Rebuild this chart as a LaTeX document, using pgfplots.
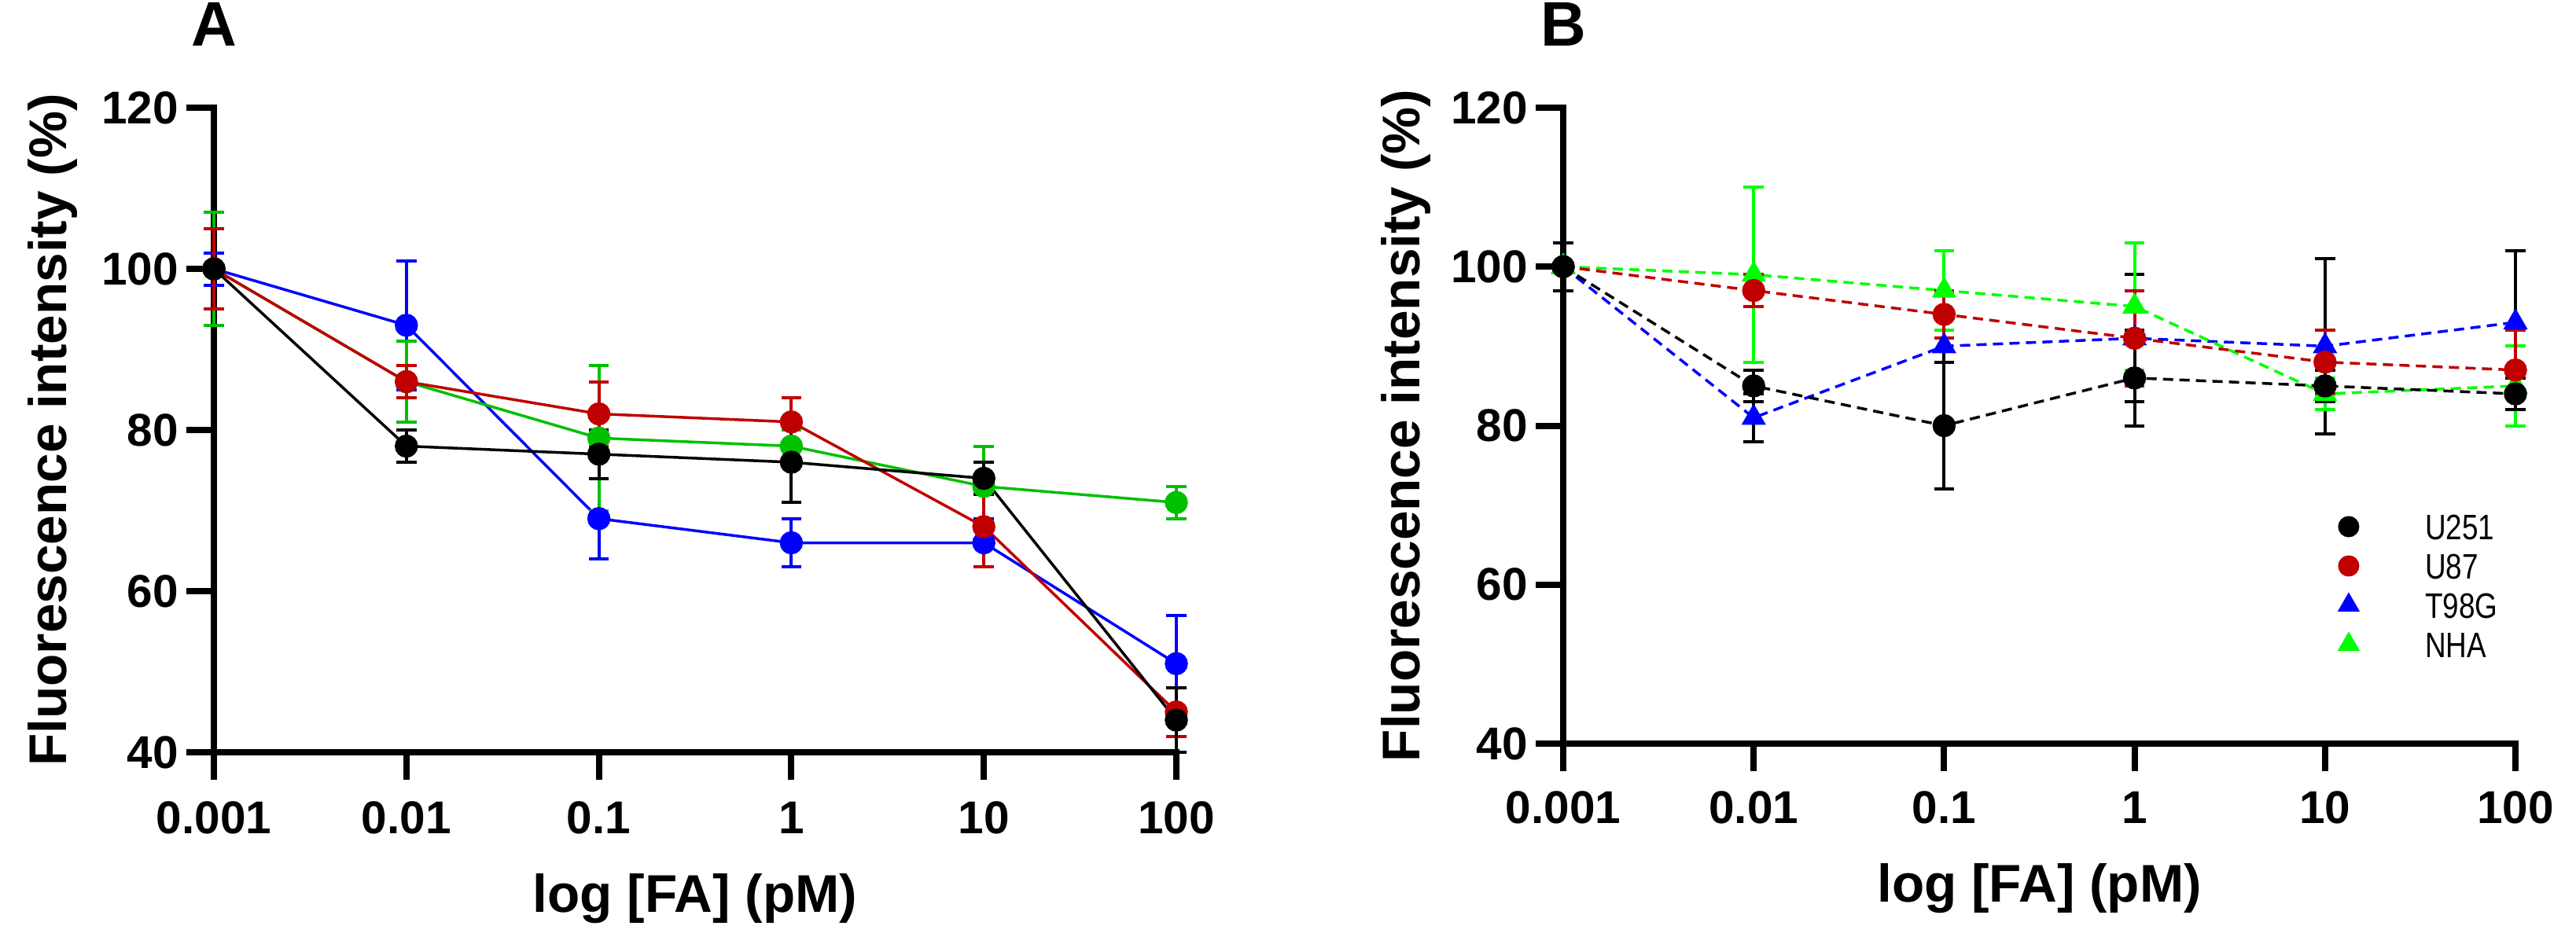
\documentclass[border=0pt]{standalone}
\usepackage{fontspec}
\setmainfont{Liberation Sans}
\usepackage{pgfplots}
\pgfplotsset{compat=1.18}
\definecolor{cblk}{RGB}{0,0,0}
\definecolor{cred}{RGB}{192,0,0}
\definecolor{cblue}{RGB}{0,0,255}
\definecolor{cgreenA}{RGB}{0,192,0}
\definecolor{cgreenB}{RGB}{0,255,0}
\begin{document}
\begin{tikzpicture}
\path[use as bounding box] (0,0) rectangle (655.2pt,241pt);
% ---------------- Panel A ----------------
\begin{axis}[
  scale only axis,
  at={(54.4pt,49.6pt)}, anchor=south west,
  width=244.8pt, height=164pt,
  xmode=log,
  xmin=0.001, xmax=100, ymin=40, ymax=120,
  xtick={0.001,0.01,0.1,1,10,100},
  xticklabels={0.001,0.01,0.1,1,10,100},
  ytick={40,60,80,100,120},
  minor tick num=0,
  minor tick style={draw=none},
  axis x line*=bottom, axis y line*=left,
  axis line style={line width=1.6pt, line cap=rect, black},
  tick align=outside, major tick length=7pt,
  major tick style={line width=1.6pt, black},
  tick label style={font=\fontsize{11.7}{12}\selectfont\bfseries, inner sep=0pt},
  /pgf/number format/assume math mode=true,
  yticklabel style={xshift=-1.8pt},
  xticklabel style={yshift=-5.4pt},
  xlabel={log [FA] (pM)}, ylabel={Fluorescence intensity (\%)},
  label style={font=\fontsize{13.5}{14}\selectfont\bfseries, inner sep=0pt},
  xlabel style={at={(axis description cs:0.5,-0.2476)}, anchor=base},
  ylabel style={at={(axis description cs:-0.1528,0.5)}, anchor=base},
  title={A},
  title style={font=\fontsize{16}{16}\selectfont\bfseries, inner sep=0pt, anchor=base, at={(axis description cs:0,1)}, yshift=9.8pt},
  clip=false,
]
\addplot[color=cblue, line width=0.7pt, mark=*, mark size=2.6pt, mark options={solid, fill=cblue},
  error bars/y dir=both, error bars/y explicit,
  error bars/error bar style={line width=0.8pt, solid, cblue},
  error bars/error mark options={rotate=90, mark size=2.55pt, line width=0.8pt, solid, cblue}]
  table[x=x, y=y, y error=e] {
x y e
0.001 100 2
0.01 93 8
0.1 69 5
1 66 3
10 66 3
100 51 6
};
\addplot[color=cgreenA, line width=0.7pt, mark=*, mark size=2.6pt, mark options={solid, fill=cgreenA},
  error bars/y dir=both, error bars/y explicit,
  error bars/error bar style={line width=0.8pt, solid, cgreenA},
  error bars/error mark options={rotate=90, mark size=2.55pt, line width=0.8pt, solid, cgreenA}]
  table[x=x, y=y, y error=e] {
x y e
0.001 100 7
0.01 86 5
0.1 79 9
1 78 2
10 73 5
100 71 2
};
\addplot[color=cred, line width=0.7pt, mark=*, mark size=2.6pt, mark options={solid, fill=cred},
  error bars/y dir=both, error bars/y explicit,
  error bars/error bar style={line width=0.8pt, solid, cred},
  error bars/error mark options={rotate=90, mark size=2.55pt, line width=0.8pt, solid, cred}]
  table[x=x, y=y, y error=e] {
x y e
0.001 100 5
0.01 86 2
0.1 82 4
1 81 3
10 68 5
100 45 3
};
\addplot[color=cblk, line width=0.7pt, mark=*, mark size=2.6pt, mark options={solid, fill=cblk},
  error bars/y dir=both, error bars/y explicit,
  error bars/error bar style={line width=0.8pt, solid, cblk},
  error bars/error mark options={rotate=90, mark size=2.55pt, line width=0.8pt, solid, cblk}]
  table[x=x, y=y, y error=e] {
x y e
0.001 100 0
0.01 78 2
0.1 77 3
1 76 5
10 74 2
100 44 4
};
\end{axis}
% ---------------- Panel B ----------------
\begin{axis}[
  scale only axis,
  at={(397.6pt,51.8pt)}, anchor=south west,
  width=242.2pt, height=161.8pt,
  xmode=log,
  xmin=0.001, xmax=100, ymin=40, ymax=120,
  xtick={0.001,0.01,0.1,1,10,100},
  xticklabels={0.001,0.01,0.1,1,10,100},
  ytick={40,60,80,100,120},
  minor tick num=0,
  minor tick style={draw=none},
  axis x line*=bottom, axis y line*=left,
  axis line style={line width=1.6pt, line cap=rect, black},
  tick align=outside, major tick length=7pt,
  major tick style={line width=1.6pt, black},
  tick label style={font=\fontsize{11.7}{12}\selectfont\bfseries, inner sep=0pt},
  /pgf/number format/assume math mode=true,
  yticklabel style={xshift=-1.8pt},
  xticklabel style={yshift=-5pt},
  xlabel={log [FA] (pM)}, ylabel={Fluorescence intensity (\%)},
  label style={font=\fontsize{13.5}{14}\selectfont\bfseries, inner sep=0pt},
  xlabel style={at={(axis description cs:0.5,-0.2485)}, anchor=base},
  ylabel style={at={(axis description cs:-0.1511,0.5)}, anchor=base},
  title={B},
  title style={font=\fontsize{16}{16}\selectfont\bfseries, inner sep=0pt, anchor=base, at={(axis description cs:0,1)}, yshift=9.8pt},
  clip=false,
  legend style={draw=none, fill=none, inner sep=0pt, outer sep=0pt,
    at={(axis description cs:0.7888,0.3721)}, anchor=north west,
    column sep=9pt, row sep=0pt,
    font=\fontsize{9}{9}\selectfont,
    nodes={inner sep=1.7pt, text height=6.6pt, text depth=0pt}},
  legend cell align=left,
  legend image code/.code={\path (0cm,0cm) (0.6cm,0cm); \draw[#1] plot coordinates {(0.3cm,0cm)};},
]
\addlegendimage{only marks, mark=*, mark size=2.5pt, color=cblk, mark options={fill=cblk}}
\addlegendentry{\scalebox{0.82}[1]{U251}}
\addlegendimage{only marks, mark=*, mark size=2.5pt, color=cred, mark options={fill=cred}}
\addlegendentry{\scalebox{0.82}[1]{U87}}
\addlegendimage{only marks, mark=triangle*, mark size=2.9pt, color=cblue, mark options={fill=cblue}}
\addlegendentry{\scalebox{0.82}[1]{T98G}}
\addlegendimage{only marks, mark=triangle*, mark size=2.9pt, color=cgreenB, mark options={fill=cgreenB}}
\addlegendentry{\scalebox{0.82}[1]{NHA}}
\addplot[forget plot, color=cblue, line width=0.7pt, dash pattern=on 2.6pt off 1.6pt,
  mark=triangle*, mark size=2.9pt, mark options={solid, fill=cblue},
  error bars/y dir=both, error bars/y explicit,
  error bars/error bar style={line width=0.8pt, solid, black},
  error bars/error mark options={rotate=90, mark size=2.55pt, line width=0.8pt, solid, black}]
  table[x=x, y=y, y error=e] {
x y e
0.001 100 0
0.01 81 3
0.1 90 2
1 91 8
10 90 11
100 93 9
};
\addplot[forget plot, color=cgreenB, line width=0.7pt, dash pattern=on 2.6pt off 1.6pt,
  mark=triangle*, mark size=2.9pt, mark options={solid, fill=cgreenB},
  error bars/y dir=both, error bars/y explicit,
  error bars/error bar style={line width=0.8pt, solid, cgreenB},
  error bars/error mark options={rotate=90, mark size=2.55pt, line width=0.8pt, solid, cgreenB}]
  table[x=x, y=y, y error=e] {
x y e
0.001 100 0
0.01 99 11
0.1 97 5
1 95 8
10 84 2
100 85 5
};
\addplot[forget plot, color=cred, line width=0.7pt, dash pattern=on 2.6pt off 1.6pt,
  mark=*, mark size=2.6pt, mark options={solid, fill=cred},
  error bars/y dir=both, error bars/y explicit,
  error bars/error bar style={line width=0.8pt, solid, cred},
  error bars/error mark options={rotate=90, mark size=2.55pt, line width=0.8pt, solid, cred}]
  table[x=x, y=y, y error=e] {
x y e
0.001 100 0
0.01 97 2
0.1 94 3
1 91 6
10 88 4
100 87 5
};
\addplot[forget plot, color=cblk, line width=0.7pt, dash pattern=on 2.6pt off 1.6pt,
  mark=*, mark size=2.6pt, mark options={solid, fill=cblk},
  error bars/y dir=both, error bars/y explicit,
  error bars/error bar style={line width=0.8pt, solid, cblk},
  error bars/error mark options={rotate=90, mark size=2.55pt, line width=0.8pt, solid, cblk}]
  table[x=x, y=y, y error=e] {
x y e
0.001 100 3
0.01 85 2
0.1 80 8
1 86 6
10 85 2
100 84 2
};
\end{axis}
\end{tikzpicture}
\end{document}
